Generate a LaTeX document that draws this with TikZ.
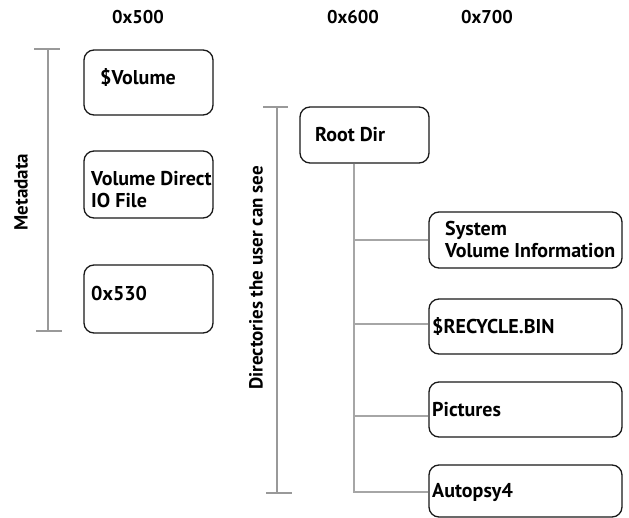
\documentclass[tikz,border=0pt]{standalone}
\usepackage{fontspec}
\setmainfont{PT Sans}
\begin{document}
\begin{tikzpicture}[x=1pt,y=-1pt,
  box/.style={draw=black!90, line width=1.3pt, rounded corners=10pt, inner sep=0pt},
  lbl/.style={font=\bfseries\fontsize{20}{22}\selectfont, anchor=west, align=left, inner sep=0pt},
  head/.style={font=\bfseries\fontsize{18.5}{20}\selectfont, inner sep=0pt},
  side/.style={font=\bfseries\fontsize{19}{20}\selectfont, inner sep=0pt, rotate=90},
  tree/.style={draw=black!35, line width=1.3pt},
  brk/.style={draw=black!40, line width=1.3pt}]
\useasboundingbox (0,0) rectangle (629,518);

% column headings
\node[head] (h5) at (138,17) {0x500};
\node[head] (h6) at (353,17) {0x600};
\node[head] (h7) at (487,17) {0x700};

% metadata column
\node[box, minimum width=129pt, minimum height=65pt] (vol) at (148.5,82.5) {};
\node[lbl] (volt) at (100,78) {\$Volume};
\node[box, minimum width=129pt, minimum height=67pt] (vdio) at (148.5,184.5) {};
\node[lbl] (vdiot) at (91,190) {Volume Direct\\IO File};
\node[box, minimum width=129pt, minimum height=68pt] (x530) at (148.5,299) {};
\node[lbl] (x530t) at (91,294) {0x530};

% metadata bracket
\coordinate (mtop) at (48,49);
\coordinate (mbot) at (48,331);
\draw[brk] (mtop) -- (mbot);
\draw[brk] ([xshift=-14pt]mtop) -- ([xshift=12pt]mtop);
\draw[brk] ([xshift=-12pt]mbot) -- ([xshift=14pt]mbot);
\node[side] (meta) at (21,192) {Metadata};

% visible directories
\node[box, minimum width=129pt, minimum height=56pt] (root) at (364.5,135) {};
\node[lbl] (roott) at (315,135) {Root Dir};
\node[box, minimum width=193pt, minimum height=56pt] (svi) at (525.5,240) {};
\node[lbl] (svit) at (445,240) {System\\Volume Information};
\node[box, minimum width=193pt, minimum height=55pt] (rec) at (525.5,326.5) {};
\node[lbl] (rect) at (432,327) {\$RECYCLE.BIN};
\node[box, minimum width=193pt, minimum height=55pt] (pic) at (525.5,409.5) {};
\node[lbl] (pict) at (432,410) {Pictures};
\node[box, minimum width=193pt, minimum height=52pt] (aut) at (525.5,491) {};
\node[lbl] (autt) at (432,492) {Autopsy4};

% tree connectors
\coordinate (t1) at (354,240);
\coordinate (t2) at (354,324);
\coordinate (t3) at (354,416);
\coordinate (t4) at (354,492);
\draw[tree] (root.south -| t1) -- (t4) -- (t4 -| aut.west);
\draw[tree] (t1) -- (t1 -| svi.west);
\draw[tree] (t2) -- (t2 -| rec.west);
\draw[tree] (t3) -- (t3 -| pic.west);

% directories bracket
\coordinate (dtop) at (277,107);
\coordinate (dbot) at (277,493);
\draw[brk] (dtop) -- (dbot);
\draw[brk] ([xshift=-14pt]dtop) -- ([xshift=11pt]dtop);
\draw[brk] ([xshift=-11pt]dbot) -- ([xshift=15pt]dbot);
\node[side] (dirs) at (256,278) {Directories the user can see};
\end{tikzpicture}
\end{document}
